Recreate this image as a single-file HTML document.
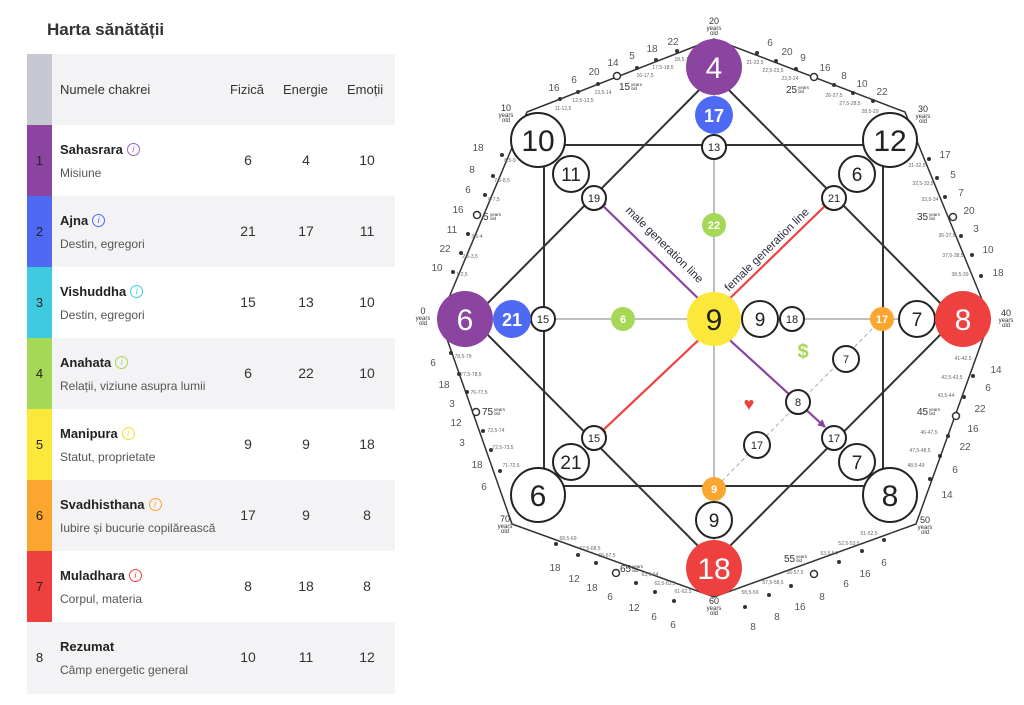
<!DOCTYPE html>
<html><head><meta charset="utf-8"><style>
body{margin:0;width:1024px;height:705px;background:#fff;font-family:"Liberation Sans",sans-serif;position:relative;overflow:hidden;color:#222}
.t{position:absolute}
.row{position:absolute;left:27px;width:368px;height:71px}
.strip{position:absolute;left:0;top:0;width:25px;height:71px;font-size:13px;color:#222;text-align:center;line-height:71px}
.nm{position:absolute;left:33px;top:17px;font-weight:bold;font-size:13px;color:#222}
.sub{position:absolute;left:33px;top:41px;font-size:12px;color:#555}
.v{position:absolute;top:27px;font-size:14px;width:40px;text-align:center;color:#333}
.i{display:inline-block;width:11px;height:11px;border:1px solid;border-radius:50%;font-size:9px;line-height:11px;text-align:center;font-style:italic;font-weight:normal;margin-left:4px;vertical-align:2px}
</style></head><body>
<div class="t" style="left:47px;top:20px;font-size:17px;font-weight:bold;color:#333">Harta sănătății</div>
<div class="row" style="top:54px;background:#f3f3f5"><div class="strip" style="background:#c5c7d1"></div>
<div class="t" style="left:33px;top:28px;font-size:13px;color:#333">Numele chakrei</div>
<div class="t" style="left:203px;top:28px;font-size:13px;color:#333">Fizică</div>
<div class="t" style="left:256px;top:28px;font-size:13px;color:#333">Energie</div>
<div class="t" style="left:320px;top:28px;font-size:13px;color:#333">Emoții</div></div>

<div class="row" style="top:125px;background:#fff"><div class="strip" style="background:#8b44a0">1</div><div class="nm">Sahasrara<span class="i" style="color:#a060c0">i</span></div><div class="sub">Misiune</div><div class="v" style="left:201px">6</div><div class="v" style="left:259px">4</div><div class="v" style="left:320px">10</div></div>
<div class="row" style="top:196px;background:#f3f3f5"><div class="strip" style="background:#4e6af5">2</div><div class="nm">Ajna<span class="i" style="color:#4e6af5">i</span></div><div class="sub">Destin, egregori</div><div class="v" style="left:201px">21</div><div class="v" style="left:259px">17</div><div class="v" style="left:320px">11</div></div>
<div class="row" style="top:267px;background:#fff"><div class="strip" style="background:#3ecbe0">3</div><div class="nm">Vishuddha<span class="i" style="color:#3ecbe0">i</span></div><div class="sub">Destin, egregori</div><div class="v" style="left:201px">15</div><div class="v" style="left:259px">13</div><div class="v" style="left:320px">10</div></div>
<div class="row" style="top:338px;background:#f3f3f5"><div class="strip" style="background:#a6d857">4</div><div class="nm">Anahata<span class="i" style="color:#a6d857">i</span></div><div class="sub">Relații, viziune asupra lumii</div><div class="v" style="left:201px">6</div><div class="v" style="left:259px">22</div><div class="v" style="left:320px">10</div></div>
<div class="row" style="top:409px;background:#fff"><div class="strip" style="background:#fce83a">5</div><div class="nm">Manipura<span class="i" style="color:#f5dd30">i</span></div><div class="sub">Statut, proprietate</div><div class="v" style="left:201px">9</div><div class="v" style="left:259px">9</div><div class="v" style="left:320px">18</div></div>
<div class="row" style="top:480px;background:#f3f3f5"><div class="strip" style="background:#fba62f">6</div><div class="nm">Svadhisthana<span class="i" style="color:#fba62f">i</span></div><div class="sub">Iubire și bucurie copilărească</div><div class="v" style="left:201px">17</div><div class="v" style="left:259px">9</div><div class="v" style="left:320px">8</div></div>
<div class="row" style="top:551px;background:#fff"><div class="strip" style="background:#ef4040">7</div><div class="nm">Muladhara<span class="i" style="color:#ef4040">i</span></div><div class="sub">Corpul, materia</div><div class="v" style="left:201px">8</div><div class="v" style="left:259px">18</div><div class="v" style="left:320px">8</div></div>
<div class="row" style="top:622px;background:#f3f3f5;height:72px"><div class="strip">8</div><div class="nm">Rezumat</div><div class="sub">Câmp energetic general</div><div class="v" style="left:201px">10</div><div class="v" style="left:259px">11</div><div class="v" style="left:320px">12</div></div>

<svg width="1024" height="705" style="position:absolute;left:0;top:0" font-family="Liberation Sans, sans-serif">
<defs>
<marker id="ap" markerWidth="8" markerHeight="8" refX="7" refY="4" orient="auto" markerUnits="userSpaceOnUse"><path d="M0,0 L8,4 L0,8 z" fill="#8b44a0"/></marker>
<marker id="ar" markerWidth="8" markerHeight="8" refX="7" refY="4" orient="auto" markerUnits="userSpaceOnUse"><path d="M0,0 L8,4 L0,8 z" fill="#ef4040"/></marker>
</defs>
<g stroke="#333" stroke-width="1.5" fill="none">
<polygon points="714,39 527,112 440,319 512,524 714,597 916,524 990,319 905,112"/>
</g>
<g stroke="#aaa" stroke-width="1.5">
<line x1="714" y1="67" x2="714" y2="568"/><line x1="465" y1="319" x2="963" y2="319"/>
</g>
<line x1="882" y1="319" x2="714" y2="489" stroke="#aaa" stroke-width="1" stroke-dasharray="4,3"/>
<g stroke="#333" stroke-width="2" fill="none">
<rect x="544" y="145" width="339" height="341"/>
<polygon points="714,75 472,319 714,562 956,319"/>
</g>
<line x1="706" y1="306" x2="599" y2="202" stroke="#8b44a0" stroke-width="2.2" marker-end="url(#ap)"/>
<line x1="722" y1="306" x2="829" y2="202" stroke="#ef4040" stroke-width="2.2" marker-end="url(#ar)"/>
<line x1="706" y1="333" x2="599" y2="434" stroke="#ef4040" stroke-width="2.2" marker-end="url(#ar)"/>
<line x1="722" y1="333" x2="825" y2="427" stroke="#8b44a0" stroke-width="2.2" marker-end="url(#ap)"/>
<text transform="translate(625,211) rotate(44.5)" font-size="11.5" fill="#2a2a3a">male generation line</text>
<text transform="translate(729,292) rotate(-44.5)" font-size="11.5" fill="#2a2a3a">female generation line</text>
<text x="803" y="358" font-size="20" fill="#a6d857" font-weight="bold" text-anchor="middle">$</text>
<text x="749" y="410" font-size="18" fill="#ef4040" text-anchor="middle">♥</text>

<g stroke="#222" stroke-width="2" fill="#fff">
<circle cx="538" cy="140" r="27"/><circle cx="890" cy="140" r="27"/><circle cx="538" cy="495" r="27"/><circle cx="890" cy="495" r="27"/>
<circle cx="571" cy="174" r="18"/><circle cx="857" cy="174" r="18"/><circle cx="571" cy="462" r="18"/><circle cx="857" cy="462" r="18"/>
<circle cx="594" cy="198" r="12"/><circle cx="834" cy="198" r="12"/><circle cx="594" cy="438" r="12"/><circle cx="834" cy="438" r="12"/>
<circle cx="714" cy="147" r="12"/><circle cx="543" cy="319" r="12"/><circle cx="792" cy="319" r="12"/><circle cx="760" cy="319" r="18"/>
<circle cx="917" cy="319" r="18"/><circle cx="714" cy="520" r="18"/>
<circle cx="846" cy="359" r="13"/><circle cx="798" cy="402" r="12"/><circle cx="757" cy="445" r="13"/>
</g>
<g stroke="none">
<circle cx="714" cy="67" r="28" fill="#8b44a0"/><circle cx="714" cy="115" r="19" fill="#4e6af5"/><circle cx="714" cy="225" r="12" fill="#a6d857"/>
<circle cx="465" cy="319" r="28" fill="#8b44a0"/><circle cx="512" cy="319" r="19" fill="#4e6af5"/><circle cx="623" cy="319" r="12" fill="#a6d857"/>
<circle cx="714" cy="319" r="27" fill="#fce83a"/><circle cx="882" cy="319" r="12" fill="#fba62f"/><circle cx="963" cy="319" r="28" fill="#ef4040"/>
<circle cx="714" cy="489" r="12" fill="#fba62f"/><circle cx="714" cy="568" r="28" fill="#ef4040"/>
</g>
<g text-anchor="middle" fill="#222">
<g font-size="30"><text x="538" y="151">10</text><text x="890" y="151">12</text><text x="538" y="506">6</text><text x="890" y="506">8</text><text x="714" y="330">9</text></g>
<g font-size="30" fill="#fff"><text x="714" y="78">4</text><text x="465" y="330">6</text><text x="963" y="330">8</text><text x="714" y="579">18</text></g>
<g font-size="18" fill="#fff" font-weight="bold"><text x="714" y="122">17</text><text x="512" y="326">21</text></g>
<g font-size="19"><text x="571" y="181">11</text><text x="857" y="181">6</text><text x="571" y="469">21</text><text x="857" y="469">7</text><text x="760" y="326">9</text><text x="917" y="326">7</text><text x="714" y="527">9</text></g>
<g font-size="11"><text x="594" y="202">19</text><text x="834" y="202">21</text><text x="594" y="442">15</text><text x="834" y="442">17</text><text x="714" y="151">13</text><text x="543" y="323">15</text><text x="792" y="323">18</text><text x="846" y="363">7</text><text x="798" y="406">8</text><text x="757" y="449">17</text></g>
<g font-size="11" fill="#fff" font-weight="bold"><text x="714" y="229">22</text><text x="623" y="323">6</text><text x="882" y="323">17</text><text x="714" y="493">9</text></g>
</g>

<g fill="#333">
<circle cx="677" cy="51" r="2"/><circle cx="656" cy="60" r="2"/><circle cx="637" cy="68" r="2"/><circle cx="598" cy="84" r="2"/><circle cx="578" cy="92" r="2"/><circle cx="560" cy="99" r="2"/>
<circle cx="502" cy="155" r="2"/><circle cx="493" cy="176" r="2"/><circle cx="485" cy="195" r="2"/><circle cx="468" cy="234" r="2"/><circle cx="461" cy="253" r="2"/><circle cx="453" cy="272" r="2"/>
<circle cx="451" cy="353" r="2"/><circle cx="459" cy="374" r="2"/><circle cx="467" cy="392" r="2"/><circle cx="483" cy="431" r="2"/><circle cx="491" cy="450" r="2"/><circle cx="500" cy="471" r="2"/>
<circle cx="556" cy="544" r="2"/><circle cx="578" cy="555" r="2"/><circle cx="596" cy="563" r="2"/><circle cx="636" cy="583" r="2"/><circle cx="655" cy="592" r="2"/><circle cx="674" cy="601" r="2"/>
<circle cx="745" cy="607" r="2"/><circle cx="769" cy="595" r="2"/><circle cx="791" cy="586" r="2"/><circle cx="839" cy="562" r="2"/><circle cx="862" cy="551" r="2"/><circle cx="884" cy="540" r="2"/>
<circle cx="973" cy="376" r="2"/><circle cx="964" cy="397" r="2"/><circle cx="948" cy="436" r="2"/><circle cx="940" cy="456" r="2"/><circle cx="930" cy="479" r="2"/>
<circle cx="929" cy="159" r="2"/><circle cx="937" cy="178" r="2"/><circle cx="945" cy="197" r="2"/><circle cx="961" cy="236" r="2"/><circle cx="972" cy="255" r="2"/><circle cx="981" cy="276" r="2"/>
<circle cx="757" cy="53" r="2"/><circle cx="776" cy="61" r="2"/><circle cx="796" cy="69" r="2"/><circle cx="834" cy="85" r="2"/><circle cx="853" cy="93" r="2"/><circle cx="873" cy="101" r="2"/>
</g>
<g fill="#fff" stroke="#333" stroke-width="1.5">
<circle cx="617" cy="76" r="3.5"/><circle cx="477" cy="215" r="3.5"/><circle cx="476" cy="412" r="3.5"/><circle cx="616" cy="573" r="3.5"/><circle cx="814" cy="574" r="3.5"/><circle cx="956" cy="416" r="3.5"/><circle cx="953" cy="217" r="3.5"/><circle cx="814" cy="77" r="3.5"/>
</g>
<g font-size="10" fill="#555" text-anchor="middle">
<text x="673" y="45">22</text><text x="652" y="52">18</text><text x="632" y="59">5</text><text x="613" y="66">14</text><text x="594" y="75">20</text><text x="574" y="83">6</text><text x="554" y="91">16</text>
<text x="478" y="151">18</text><text x="472" y="173">8</text><text x="468" y="193">6</text><text x="458" y="213">16</text><text x="452" y="233">11</text><text x="445" y="252">22</text><text x="437" y="271">10</text>
<text x="433" y="366">6</text><text x="444" y="388">18</text><text x="452" y="407">3</text><text x="456" y="426">12</text><text x="462" y="446">3</text><text x="477" y="468">18</text><text x="484" y="490">6</text>
<text x="555" y="571">18</text><text x="574" y="582">12</text><text x="592" y="591">18</text><text x="610" y="600">6</text><text x="634" y="611">12</text><text x="654" y="620">6</text><text x="673" y="628">6</text>
<text x="753" y="630">8</text><text x="777" y="620">8</text><text x="800" y="610">16</text><text x="822" y="600">8</text><text x="846" y="587">6</text><text x="865" y="577">16</text><text x="884" y="566">6</text>
<text x="996" y="373">14</text><text x="988" y="391">6</text><text x="980" y="412">22</text><text x="973" y="432">16</text><text x="965" y="450">22</text><text x="955" y="473">6</text><text x="947" y="498">14</text>
<text x="945" y="158">17</text><text x="953" y="178">5</text><text x="961" y="196">7</text><text x="969" y="214">20</text><text x="976" y="232">3</text><text x="988" y="253">10</text><text x="998" y="276">18</text>
<text x="770" y="46">6</text><text x="787" y="55">20</text><text x="803" y="61">9</text><text x="825" y="71">16</text><text x="844" y="79">8</text><text x="862" y="87">10</text><text x="882" y="95">22</text>
</g>
<g font-size="5" fill="#666" text-anchor="middle">
<text x="683" y="61">18,5-19</text><text x="663" y="69">17,5-18,5</text><text x="645" y="77">16-17,5</text><text x="603" y="94">13,5-14</text><text x="583" y="102">12,5-13,5</text><text x="563" y="110">11-12,5</text>
<text x="510" y="162">8,5-9</text><text x="502" y="182">7,5-8,5</text><text x="494" y="201">6-7,5</text><text x="477" y="238">3,5-4</text><text x="470" y="258">2,5-3,5</text><text x="462" y="276">1-2,5</text>
<text x="463" y="358">78,5-79</text><text x="471" y="376">77,5-78,5</text><text x="479" y="394">76-77,5</text><text x="496" y="432">73,5-74</text><text x="503" y="449">72,5-73,5</text><text x="511" y="467">71-72,5</text>
<text x="568" y="540">68,5-69</text><text x="590" y="550">67,5-68,5</text><text x="607" y="557">66-67,5</text><text x="650" y="576">63,5-64</text><text x="665" y="585">62,5-63,5</text><text x="683" y="593">61-62,5</text>
<text x="750" y="594">58,5-59</text><text x="773" y="584">57,5-58,5</text><text x="795" y="574">56-57,5</text><text x="829" y="555">53,5-54</text><text x="849" y="545">52,5-53,5</text><text x="869" y="535">51-52,5</text>
<text x="963" y="360">41-42,5</text><text x="952" y="379">42,5-43,5</text><text x="946" y="397">43,5-44</text><text x="929" y="434">46-47,5</text><text x="920" y="452">47,5-48,5</text><text x="916" y="467">48,5-49</text>
<text x="917" y="167">31-32,5</text><text x="923" y="185">32,5-33,5</text><text x="930" y="201">33,5-34</text><text x="947" y="237">36-37,5</text><text x="953" y="257">37,5-38,5</text><text x="960" y="276">38,5-39</text>
<text x="755" y="64">21-22,5</text><text x="773" y="72">22,5-23,5</text><text x="790" y="80">23,5-24</text><text x="834" y="97">26-27,5</text><text x="850" y="105">27,5-28,5</text><text x="870" y="113">28,5-29</text>
</g>
<g fill="#333" text-anchor="middle">
<g font-size="9"><text x="714" y="24">20</text><text x="506" y="111">10</text><text x="923" y="112">30</text><text x="423" y="314">0</text><text x="1006" y="316">40</text><text x="505" y="522">70</text><text x="925" y="523">50</text><text x="714" y="604">60</text></g>
<g font-size="6"><text x="714" y="30">years</text><text x="714" y="35">old</text><text x="506" y="117">years</text><text x="506" y="122">old</text><text x="923" y="118">years</text><text x="923" y="123">old</text><text x="423" y="320">years</text><text x="423" y="325">old</text><text x="1006" y="322">years</text><text x="1006" y="327">old</text><text x="505" y="528">years</text><text x="505" y="533">old</text><text x="925" y="529">years</text><text x="925" y="534">old</text><text x="714" y="610">years</text><text x="714" y="615">old</text></g>
<g font-size="10" text-anchor="start"><text x="619" y="90">15</text><text x="483" y="220">5</text><text x="482" y="415">75</text><text x="620" y="572">65</text><text x="784" y="562">55</text><text x="917" y="415">45</text><text x="917" y="220">35</text><text x="786" y="93">25</text></g>
<g font-size="4.5" text-anchor="start"><text x="631" y="86">years</text><text x="631" y="90">old</text><text x="490" y="216">years</text><text x="490" y="220">old</text><text x="494" y="411">years</text><text x="494" y="415">old</text><text x="632" y="568">years</text><text x="632" y="572">old</text><text x="796" y="558">years</text><text x="796" y="562">old</text><text x="929" y="411">years</text><text x="929" y="415">old</text><text x="929" y="216">years</text><text x="929" y="220">old</text><text x="798" y="89">years</text><text x="798" y="93">old</text></g>
</g>
</svg>
</body></html>
